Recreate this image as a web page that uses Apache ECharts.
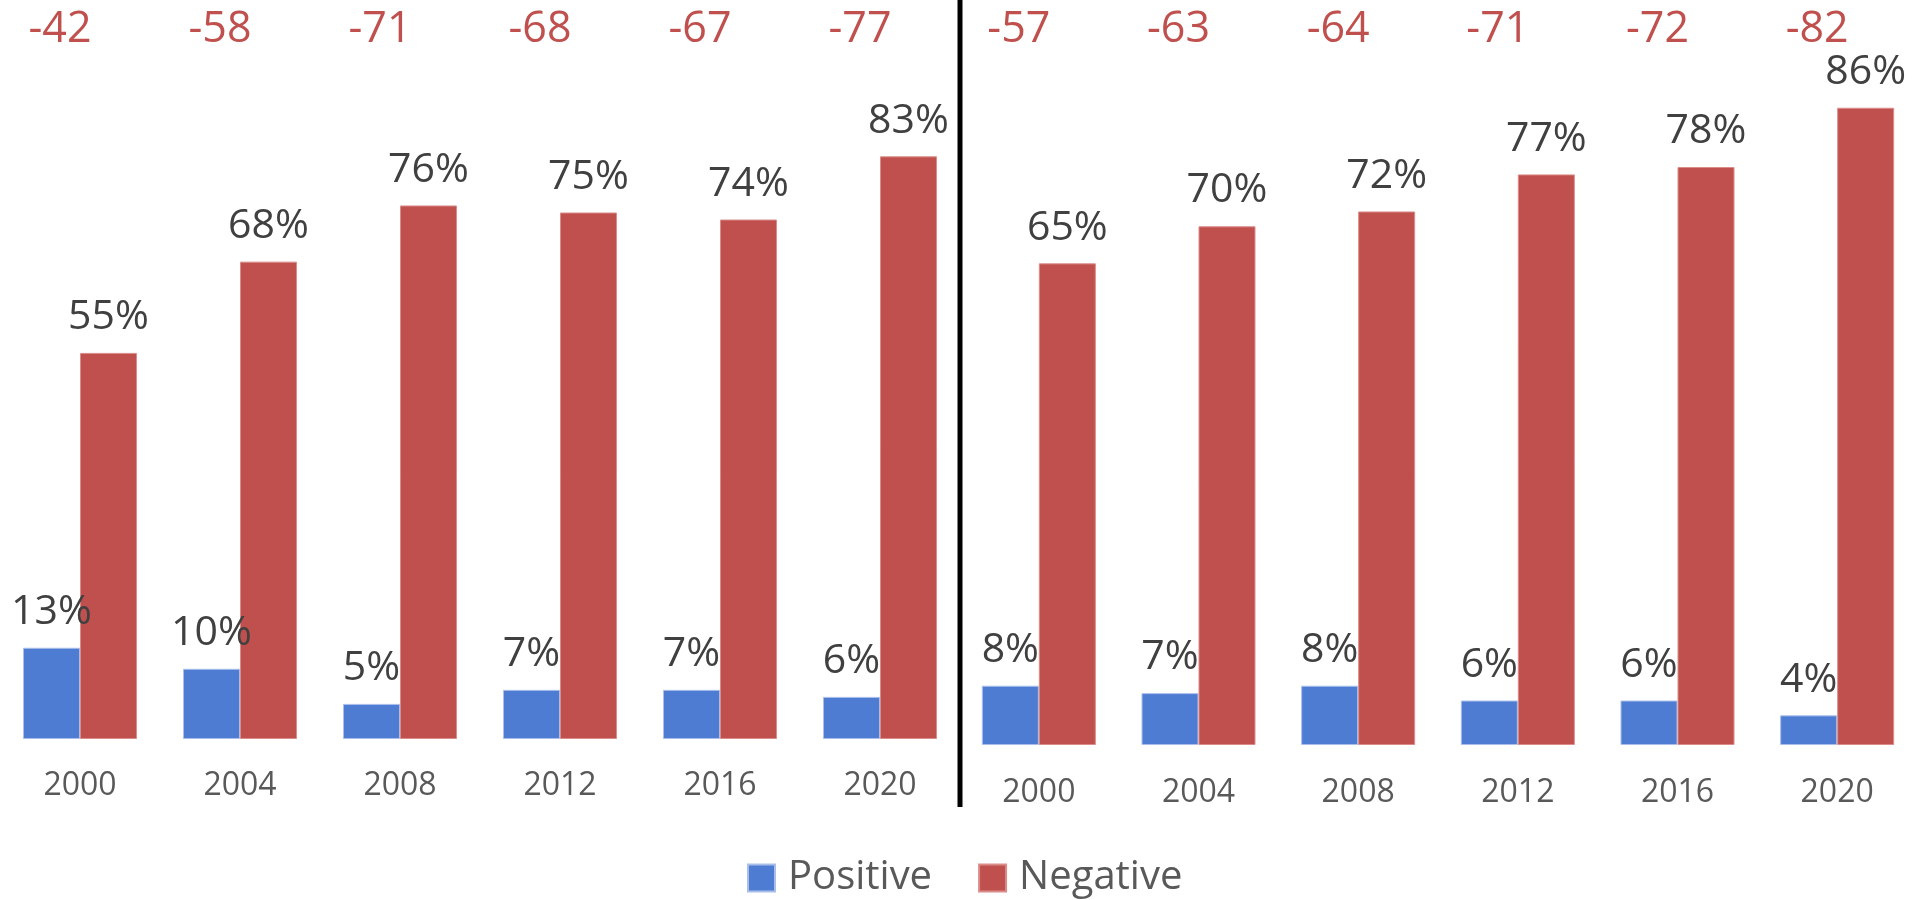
<!DOCTYPE html>
<html>
<head>
<meta charset="utf-8">
<script src="https://cdn.jsdelivr.net/npm/echarts@6/dist/echarts.min.js"></script>
<style>
html,body{margin:0;padding:0;background:#fff;}
#chart{width:1917px;height:900px;}
</style>
</head>
<body>
<div id="chart"></div>
<script>
const years = ['2000', '2004', '2008', '2012', '2016', '2020'];
const leftPositive = [13, 10, 5, 7, 7, 6];
const leftNegative = [55, 68, 76, 75, 74, 83];
const leftNet = ['-42', '-58', '-71', '-68', '-67', '-77'];
const rightPositive = [8, 7, 8, 6, 6, 4];
const rightNegative = [65, 70, 72, 77, 78, 86];
const rightNet = ['-57', '-63', '-64', '-71', '-72', '-82'];

const BLUE = '#4E7CD3';
const RED = '#C0504D';
const FONT = '"Open Sans", "Noto Sans", sans-serif';

const chart = echarts.init(document.getElementById('chart'));

function barLabel() {
  return {
    show: true, position: 'top', distance: 15,
    formatter: p => p.value + '%',
    fontFamily: FONT, fontSize: 41, lineHeight: 41, color: '#404040'
  };
}

function catAxis(gridIndex, labels, pos, margin, color, size, pad) {
  return {
    type: 'category', gridIndex: gridIndex, data: labels, position: pos,
    axisLine: {show: false}, axisTick: {show: false},
    axisLabel: {
      show: true, margin: margin, verticalAlign: 'middle',
      fontFamily: FONT, fontSize: size, lineHeight: size, color: color,
      padding: pad || 0
    }
  };
}

function barStyle(c, b) {
  return {color: c, borderColor: b, borderWidth: 1};
}

const option = {
  animation: false,
  backgroundColor: '#ffffff',
  grid: [
    {left: 0, width: 960, top: 37, bottom: 161},
    {left: 959, width: 964, top: 4, bottom: 155}
  ],
  xAxis: [
    catAxis(0, years, 'bottom', 47, '#595959', 32),
    catAxis(1, years, 'bottom', 48, '#595959', 32),
    catAxis(0, leftNet, 'top', 7, RED, 43, [0, 40, 0, 0]),
    catAxis(1, rightNet, 'top', -26, RED, 43, [0, 40, 0, 0])
  ],
  yAxis: [
    {type: 'value', gridIndex: 0, min: 0, max: 100, show: false},
    {type: 'value', gridIndex: 1, min: 0, max: 100, show: false}
  ],
  legend: {
    data: ['Positive', 'Negative'],
    left: 747, top: 856, padding: 0,
    itemWidth: 27, itemHeight: 27, itemGap: 46,
    icon: 'rect',
    textStyle: {fontFamily: FONT, fontSize: 40, lineHeight: 44, color: '#595959', padding: [0, 0, 0, 8]}
  },
  series: [
    {name: 'Positive', type: 'bar', xAxisIndex: 0, yAxisIndex: 0, data: leftPositive,
     barWidth: 57, barGap: '0%', itemStyle: barStyle(BLUE, '#A9BFEA'), label: barLabel()},
    {name: 'Negative', type: 'bar', xAxisIndex: 0, yAxisIndex: 0, data: leftNegative,
     barWidth: 57, barGap: '0%', itemStyle: barStyle(RED, '#D98C8A'), label: barLabel()},
    {name: 'Positive', type: 'bar', xAxisIndex: 1, yAxisIndex: 1, data: rightPositive,
     barWidth: 57, barGap: '0%', itemStyle: barStyle(BLUE, '#A9BFEA'), label: barLabel()},
    {name: 'Negative', type: 'bar', xAxisIndex: 1, yAxisIndex: 1, data: rightNegative,
     barWidth: 57, barGap: '0%', itemStyle: barStyle(RED, '#D98C8A'), label: barLabel()}
  ],
  graphic: [
    {type: 'line', shape: {x1: 960, y1: 0, x2: 960, y2: 807},
     style: {stroke: '#000000', lineWidth: 5}, z: 10}
  ]
};
chart.setOption(option);
</script>
</body>
</html>
